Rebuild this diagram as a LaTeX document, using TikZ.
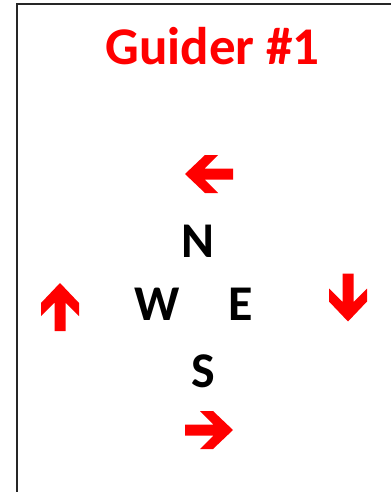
\documentclass[tikz,border=0pt]{standalone}
\usepackage{fontspec}
\setmainfont{Carlito}
\tikzset{
  guidearrow/.pic={\fill[red] (0,0) -- (-20,-19) -- (-33,-19) -- (-19.5,-5.5) -- (-48,-5.5) -- (-48,5.5) -- (-19.5,5.5) -- (-33,19) -- (-20,19) -- cycle;},
  titletext/.style={anchor=base, inner sep=0pt, text=red, font=\fontsize{53}{60}\selectfont\bfseries},
  dirletter/.style={anchor=base, inner sep=0pt, text=black, font=\fontsize{50}{60}\selectfont\bfseries},
  frameline/.style={draw=black!85, line width=1.3pt}
}
\begin{document}
\begin{tikzpicture}[x=1pt,y=-1pt]
\useasboundingbox (0,0) rectangle (391,492);
\fill[white] (0,0) rectangle (391,492);
\draw[frameline] (17,492) -- (17,4) -- (391,4);
\node[titletext] (title) at (212.5,65) {Guider \#1};
\node[dirletter] (n) at (198,257) {N};
\node[dirletter] (w) at (157.5,320) {W};
\node[dirletter] (e) at (241,320) {E};
\node[dirletter] (s) at (203,387) {S};
\pic[rotate=180] at (185,174) {guidearrow};
\pic at (233,430) {guidearrow};
\pic[rotate=90] at (60,283) {guidearrow};
\pic[rotate=-90] at (348,321.5) {guidearrow};
\end{tikzpicture}
\end{document}
